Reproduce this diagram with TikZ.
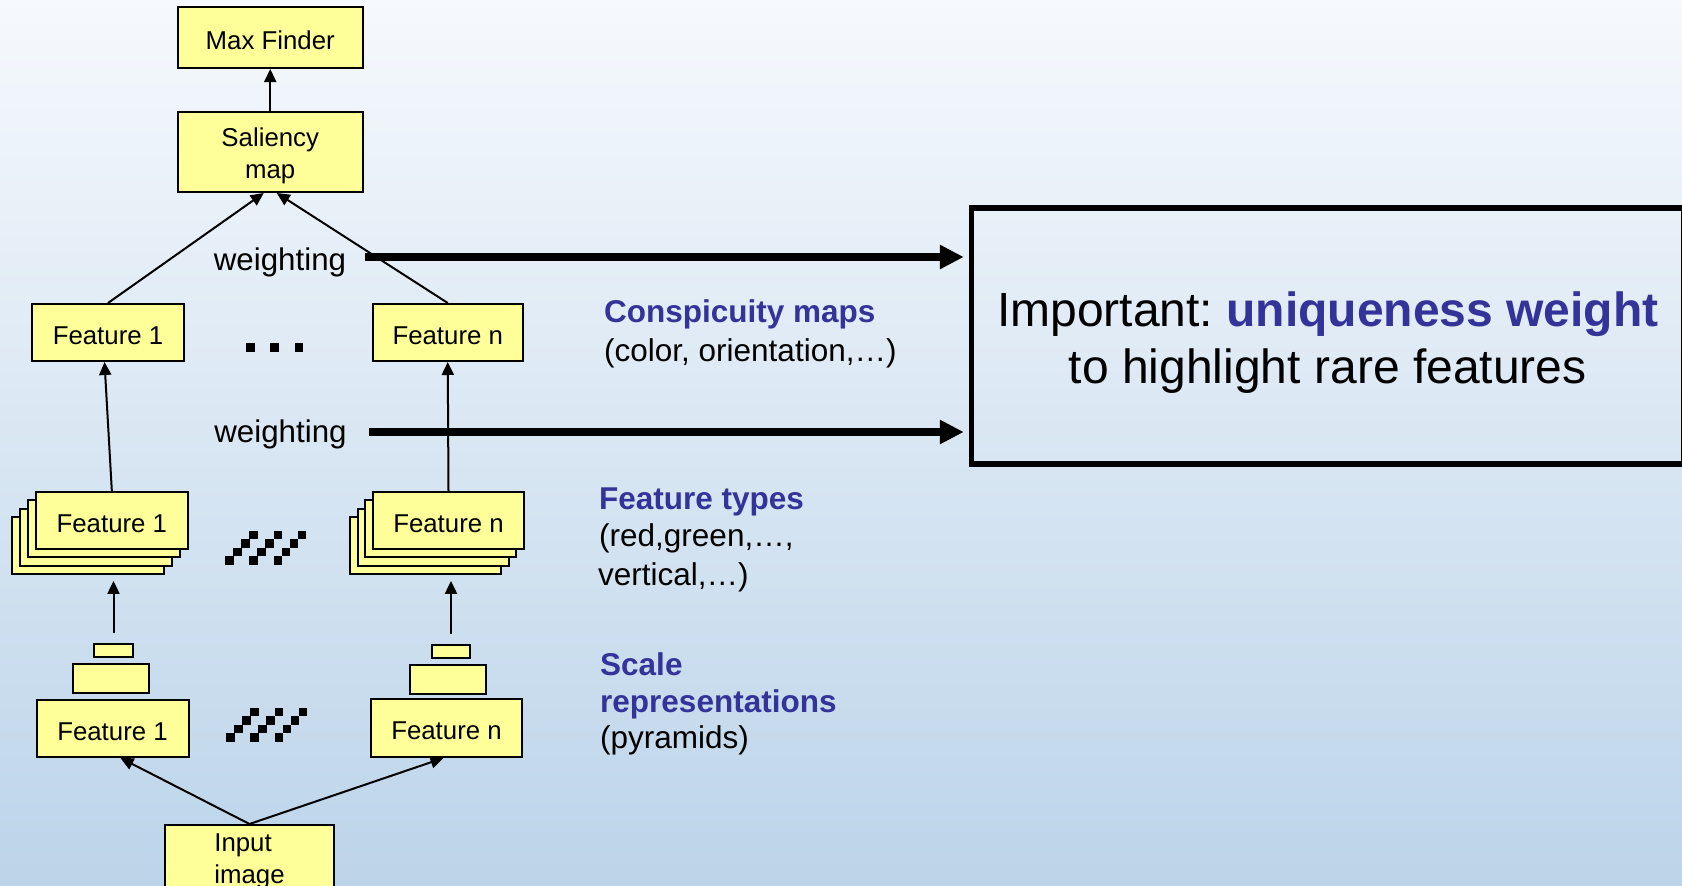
\documentclass[tikz,border=0pt]{standalone}
\usepackage{fontspec}
\setmainfont{Liberation Sans}
\usetikzlibrary{arrows.meta,calc}
\definecolor{boxyellow}{HTML}{FFFF99}
\definecolor{titleblue}{HTML}{333399}
\definecolor{bgtop}{HTML}{F6F9FD}
\definecolor{bgbot}{HTML}{BCD4E9}
\tikzset{
  box/.style={draw=black, fill=boxyellow, line width=2pt, inner sep=0pt, anchor=center,
    font=\fontsize{25.8}{32}\selectfont},
  one/.style={text height=23.5pt, text depth=0pt},
  arr/.style={line width=2pt, -{Triangle[length=13pt,width=12pt]}},
  bigarr/.style={line width=7.5pt, -{Triangle[length=24pt,width=23pt]}},
  wlabel/.style={inner sep=0pt, font=\fontsize{31.3}{38}\selectfont},
  side/.style={inner sep=0pt, anchor=base west, font=\fontsize{31.5}{38}\selectfont},
  sidehead/.style={side, text=titleblue, font=\fontsize{31.5}{38}\selectfont\bfseries},
  blk/.style={fill=black}
}
\frenchspacing
\begin{document}
\begin{tikzpicture}[x=1pt,y=-1pt]
\useasboundingbox (0,0) rectangle (1682,886);
\clip (0,0) rectangle (1682,886);
\shade[top color=bgtop, bottom color=bgbot] (0,0) rectangle (1682,886);

% top boxes
\node[box, one, minimum width=184.5, minimum height=61] (maxf) at (270.25,37.5) {Max Finder};
\node[box, minimum width=184.5, minimum height=80, align=center] (sal) at (270.25,152) {\rule{0pt}{27pt}Saliency\\map};

% conspicuity maps
\node[box, one, minimum width=152, minimum height=57] (c1) at (108,332.5) {Feature 1};
\node[box, one, minimum width=150.5, minimum height=57] (cn) at (447.75,332.5) {Feature n};

% stacked feature types
\foreach \k in {3,2,1} {
  \node[box, minimum width=152.3, minimum height=57] (s1\k) at ({111.85-8*\k},{520.5+8.3*\k}) {};
  \node[box, minimum width=151, minimum height=57] (sn\k) at ({448.5-7.7*\k},{520.5+8.3*\k}) {};
}
\node[box, one, minimum width=152.3, minimum height=57] (s1) at (111.85,520.5) {Feature 1};
\node[box, one, minimum width=151, minimum height=57] (sn) at (448.5,520.5) {Feature n};

% pyramids
\node[box, minimum width=39, minimum height=13] (pl1) at (113.5,650.5) {};
\node[box, minimum width=76, minimum height=29] (pl2) at (111,678.5) {};
\node[box, minimum width=38, minimum height=13] (pr1) at (451,651.5) {};
\node[box, minimum width=76, minimum height=29] (pr2) at (448,679.5) {};

% scale level boxes
\node[box, one, minimum width=152, minimum height=57] (b1) at (112.5,728.5) {Feature 1};
\node[box, one, minimum width=151, minimum height=58] (bn) at (446.5,728) {Feature n};

% input
\node[box, minimum width=169, minimum height=66, align=left] (inp) at (249.5,858) {\rule{0pt}{24pt}Input\\image};

% connectors
\draw[arr] (sal.north) -- (maxf.south);
\draw[arr] (c1.north) -- ([xshift=-6.5pt]sal.south);
\draw[arr] (cn.north) -- ([xshift=6.5pt]sal.south);
\draw[arr] (s1.north) -- ([xshift=-3.5pt]c1.south);
\draw[arr] (sn.north) -- (cn.south);
\draw[arr] ([yshift=10pt]pl1.north) -- ([yshift=-6pt]pl1.north |- s13.south);
\draw[arr] ([yshift=10pt]pr1.north) -- ([yshift=-6pt]pr1.north |- sn3.south);
\draw[arr] (inp.north) -- ([xshift=8pt]b1.south);
\draw[arr] (inp.north) -- ([xshift=-3pt]bn.south);

% weighting labels
\node[wlabel] (w1) at (280,262.5) {weighting};
\node[wlabel] (w2) at (280.5,434) {weighting};

% dots
\fill[blk] (246,343) rectangle +(8.5,9);
\fill[blk] (270,343) rectangle +(8.5,9);
\fill[blk] (294.5,343) rectangle +(8.5,9);

% staircase patterns
\foreach \xo/\yb in {225/565, 226/742} {
  \foreach \d in {0,1,2} {
    \foreach \i in {0,1,2,3} {
      \fill[blk] ({\xo+(3*\d+\i)*8.09},{\yb-\i*8.6}) rectangle +(8.6,-8.6);
    }
  }
}

% important box
\node[draw=black, line width=5.5pt, minimum width=712.5, minimum height=256, inner sep=0pt,
      align=center, font=\fontsize{48}{57}\selectfont] (big) at (1327.75,336)
  {\rule{0pt}{47pt}Important: \textcolor{titleblue}{\bfseries uniqueness weight}\\to highlight rare features};

\coordinate (t1) at (365,257);
\coordinate (t2) at (369,432);
\draw[bigarr, shorten >=5pt] (t1) -- (t1 -| big.west);
\draw[bigarr, shorten >=5pt] (t2) -- (t2 -| big.west);

% side labels
\node[sidehead] (h1) at (604,322.7) {Conspicuity maps};
\node[side] (h1b) at (604,361.7) {(color, orientation,…)};
\node[sidehead] (h2) at (599,509.3) {Feature types};
\node[side] (h2b) at (599,546.7) {(red,green,…,};
\node[side] (h2c) at (598,585) {vertical,…)};
\node[sidehead] (h3) at (600,675.7) {Scale};
\node[sidehead] (h3b) at (600,712.7) {representations};
\node[side] (h3c) at (600,748) {(pyramids)};
\end{tikzpicture}
\end{document}
